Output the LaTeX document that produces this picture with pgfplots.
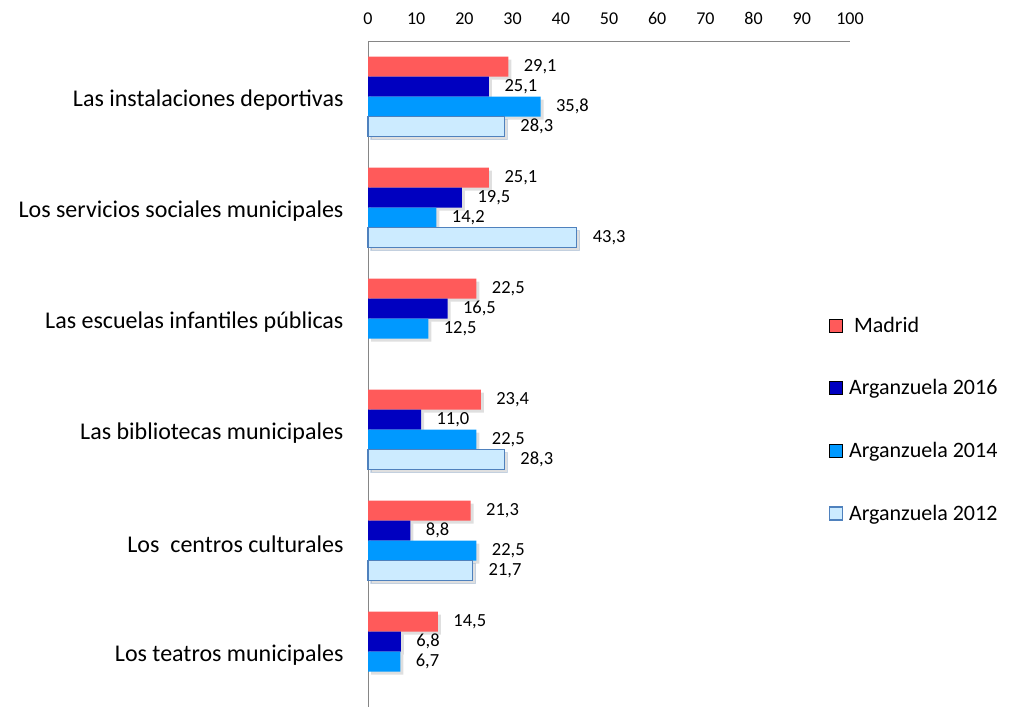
\documentclass[border=0pt]{standalone}
\usepackage{pgfplots}
\pgfplotsset{compat=1.18}
\usepackage{fontspec}
\setmainfont{Carlito}
\usetikzlibrary{shadows}
\definecolor{cMad}{RGB}{255,90,90}
\definecolor{cA16}{RGB}{0,0,192}
\definecolor{cA14}{RGB}{0,153,255}
\definecolor{cA12}{RGB}{204,235,255}
\definecolor{cA12b}{RGB}{79,129,189}
\definecolor{cAxis}{RGB}{134,134,134}
\begin{document}
\begin{tikzpicture}[x=1pt,y=1pt]
\useasboundingbox (0,0) rectangle (1025,-707);
\begin{axis}[
  at={(368pt,-707pt)}, anchor=south west,
  scale only axis, width=482pt, height=666pt,
  xbar, bar width=20pt,
  xmin=0, xmax=100, xtick={0,10,...,100},
  ymin=-0.5, ymax=5.5, y dir=reverse,
  ytick={0,...,5},
  yticklabels={Las instalaciones deportivas\ ,Los servicios sociales municipales,Las escuelas infantiles públicas,Las bibliotecas municipales,Los\ \ centros culturales,Los teatros municipales},
  axis x line*=top, axis y line*=left,
  axis line style={draw=cAxis, line width=1pt, -},
  major tick length=0pt,
  /pgf/number format/assume math mode=true,
  xticklabel style={font=\fontsize{18}{20}\selectfont, yshift=13pt},
  yticklabel style={font=\fontsize{24}{27}\selectfont, anchor=east, xshift=-21pt, yshift=-3.5pt},
  nodes near coords={\pgfmathprintnumber[fixed,fixed zerofill,precision=1,use comma,assume math mode=true]{\pgfplotspointmeta}},
  nodes near coords style={font=\fontsize{18.5}{20}\selectfont, anchor=west, xshift=12pt, text=black},
  legend style={at={(axis description cs:0.955,0.589)}, anchor=north west, draw=none, fill=none,
     font=\fontsize{22}{25}\selectfont, row sep=42pt, inner sep=0pt,
     /tikz/every odd column/.append style={column sep=4pt}},
  legend cell align=left,
  legend image code/.code={\draw[#1] (0pt,-6.5pt) rectangle (13pt,6.5pt);},
  clip=false,
]
\addlegendimage{fill=cMad, draw=none}
\addlegendentry{\hspace{5pt}Madrid}
\addlegendimage{fill=cA16, draw=none}
\addlegendentry{Arganzuela 2016}
\addlegendimage{fill=cA14, draw=none}
\addlegendentry{Arganzuela 2014}
\addlegendimage{fill=cA12, draw=cA12b, line width=1.5pt}
\addlegendentry{Arganzuela 2012}

\addplot[forget plot, fill=cMad, draw=none, bar shift=30pt,
  drop shadow={opacity=0.25, shadow xshift=3pt, shadow yshift=-3pt}]
  coordinates {(29.1,0) (25.1,1) (22.5,2) (23.4,3) (21.3,4) (14.5,5)};
\addplot[forget plot, fill=cA16, draw=none, bar shift=10pt,
  drop shadow={opacity=0.25, shadow xshift=3pt, shadow yshift=-3pt}]
  coordinates {(25.1,0) (19.5,1) (16.5,2) (11.0,3) (8.8,4) (6.8,5)};
\addplot[forget plot, fill=cA14, draw=none, bar shift=-10pt,
  drop shadow={opacity=0.25, shadow xshift=3pt, shadow yshift=-3pt}]
  coordinates {(35.8,0) (14.2,1) (12.5,2) (22.5,3) (22.5,4) (6.7,5)};
\addplot[forget plot, fill=cA12, draw=cA12b, line width=1.5pt, bar shift=-30pt,
  drop shadow={opacity=0.25, shadow xshift=3pt, shadow yshift=-3pt}]
  coordinates {(28.3,0) (43.3,1) (28.3,3) (21.7,4)};
\end{axis}
\end{tikzpicture}
\end{document}
